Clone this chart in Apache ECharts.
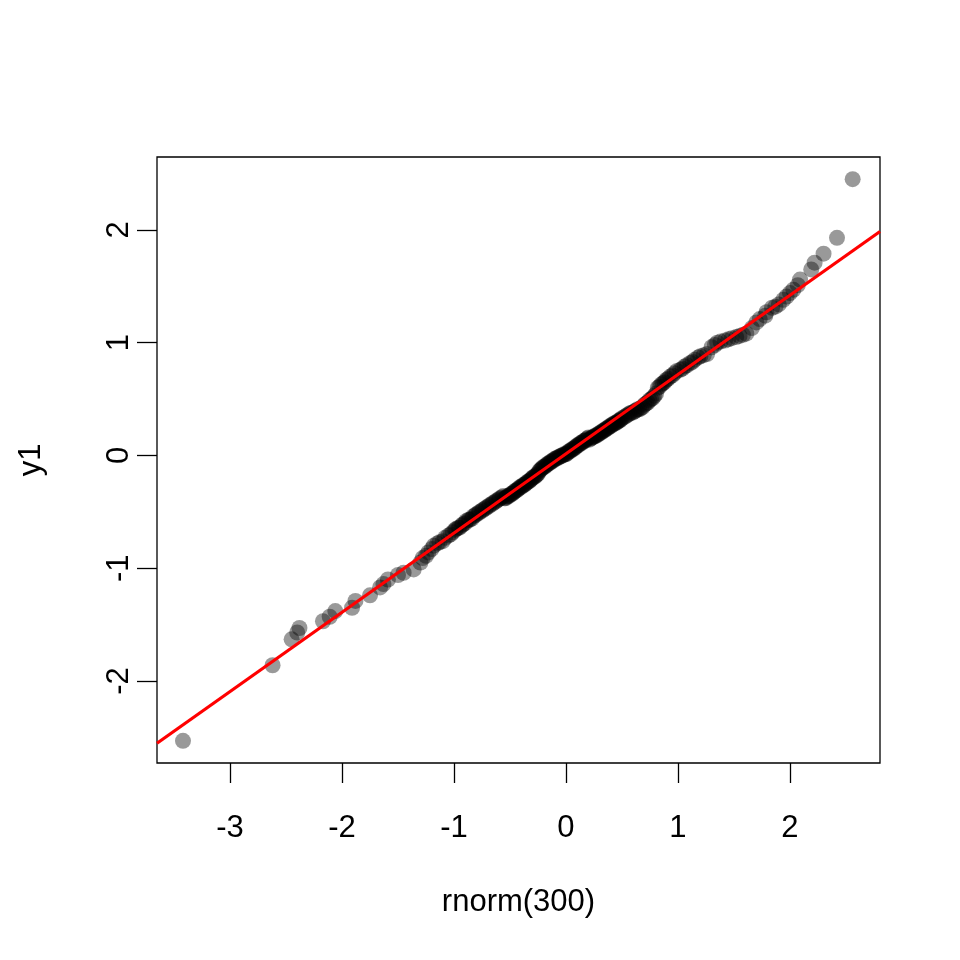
<!DOCTYPE html>
<html>
<head>
<meta charset="utf-8">
<title>y1 vs rnorm(300)</title>
<script src="https://cdn.jsdelivr.net/npm/echarts@6/dist/echarts.min.js"></script>
<style>
  html, body { margin: 0; padding: 0; background: #fff; }
  #chart { width: 960px; height: 960px; }
</style>
</head>
<body>
<div id="chart"></div>
<script>
// sorted sample values (x = rnorm(300), y = y1)
var xVals = [
  -3.42, -2.62, -2.45, -2.40, -2.38, -2.17, -2.11, -2.06, -1.91, -1.88, -1.75, -1.66, -1.63, -1.59, -1.50, -1.45, -1.36, -1.30,
  -1.28, -1.25, -1.23, -1.20, -1.18, -1.15, -1.13, -1.10, -1.08, -1.05, -1.03,
  -1.01, -0.99, -0.98, -0.96, -0.95, -0.93, -0.92, -0.90, -0.89, -0.87, -0.86, -0.84, -0.83, -0.81, -0.80, -0.78,
  -0.77, -0.75, -0.74, -0.72, -0.71, -0.69, -0.68, -0.66, -0.65, -0.63, -0.62, -0.60, -0.59, -0.57, -0.56,
  -0.55, -0.54, -0.53, -0.52, -0.51, -0.50, -0.49, -0.48, -0.47, -0.46, -0.45, -0.44, -0.43, -0.42, -0.41, -0.40,
  -0.39, -0.38, -0.37, -0.36, -0.35, -0.34, -0.33, -0.32, -0.31, -0.30, -0.29, -0.28, -0.27, -0.26, -0.25,
  -0.24, -0.23, -0.22, -0.21, -0.20, -0.19, -0.18, -0.17, -0.16, -0.15, -0.14, -0.13, -0.12, -0.11, -0.10, -0.09,
  -0.08, -0.07, -0.06, -0.05, -0.04, -0.03, -0.02, -0.01,
  0.00, 0.01, 0.02, 0.03, 0.04, 0.05, 0.06, 0.07, 0.08, 0.09, 0.10, 0.11, 0.12, 0.13, 0.14, 0.15, 0.16, 0.17, 0.18, 0.19, 0.20,
  0.21, 0.22, 0.23, 0.24, 0.25, 0.26, 0.27, 0.28, 0.29, 0.30, 0.31, 0.32, 0.33, 0.34, 0.35, 0.36, 0.37, 0.38, 0.39, 0.40,
  0.41, 0.42, 0.43, 0.44, 0.45, 0.46, 0.47, 0.48, 0.49, 0.50,
  0.52, 0.535, 0.55, 0.565, 0.58, 0.595, 0.61, 0.625, 0.64, 0.655, 0.67, 0.685, 0.70, 0.715, 0.73, 0.745, 0.76, 0.775, 0.79, 0.805,
  0.82, 0.835, 0.85, 0.865, 0.88, 0.895, 0.91,
  0.93, 0.95, 0.97, 0.99, 1.02, 1.04, 1.06, 1.08, 1.11, 1.13, 1.15, 1.18, 1.20, 1.23, 1.26, 1.30, 1.33, 1.35, 1.38, 1.42,
  1.45, 1.48, 1.52, 1.55, 1.58, 1.61, 1.66, 1.70, 1.73, 1.78, 1.79, 1.84, 1.87, 1.90, 1.94, 1.97, 2.00, 2.03, 2.07, 2.09,
  2.19, 2.22, 2.30, 2.42, 2.56
]
var yVals = [
  -2.53, -1.86, -1.63, -1.57, -1.53, -1.47, -1.43, -1.38, -1.35, -1.29, -1.24, -1.17, -1.14, -1.10, -1.06, -1.04, -1.01, -0.95,
  -0.91, -0.89, -0.86, -0.83, -0.80, -0.78, -0.77, -0.76, -0.73, -0.71, -0.70,
  -0.68, -0.66, -0.65, -0.64, -0.64, -0.62, -0.61, -0.60, -0.58, -0.57, -0.57, -0.56, -0.54, -0.53, -0.52, -0.51,
  -0.50, -0.49, -0.48, -0.47, -0.46, -0.45, -0.44, -0.43, -0.42, -0.41, -0.40, -0.39, -0.38, -0.37, -0.36,
  -0.38, -0.38, -0.37, -0.36, -0.36, -0.35, -0.34, -0.34, -0.33, -0.32, -0.31, -0.31, -0.30, -0.29, -0.28, -0.28,
  -0.27, -0.26, -0.26, -0.25, -0.24, -0.23, -0.23, -0.22, -0.21, -0.20, -0.19, -0.19, -0.18, -0.17, -0.16,
  -0.14, -0.13, -0.12, -0.11, -0.10, -0.10, -0.09, -0.08, -0.07, -0.07, -0.06, -0.05, -0.05, -0.04, -0.03, -0.03,
  -0.02, -0.02, -0.01, -0.01, 0.00, 0.00, 0.01, 0.01,
  0.01, 0.02, 0.03, 0.04, 0.04, 0.05, 0.06, 0.06, 0.07, 0.08, 0.09, 0.09, 0.10, 0.11, 0.11, 0.12, 0.13, 0.13, 0.14, 0.15, 0.16,
  0.14, 0.15, 0.16, 0.16, 0.17, 0.17, 0.18, 0.18, 0.19, 0.20, 0.20, 0.21, 0.22, 0.22, 0.23, 0.24, 0.24, 0.25, 0.26, 0.26,
  0.27, 0.28, 0.28, 0.29, 0.29, 0.30, 0.31, 0.31, 0.32, 0.33,
  0.34, 0.35, 0.36, 0.37, 0.38, 0.38, 0.39, 0.40, 0.41, 0.41, 0.42, 0.43, 0.45, 0.46, 0.47, 0.49, 0.50, 0.51, 0.53, 0.55,
  0.60, 0.61, 0.63, 0.64, 0.65, 0.67, 0.68,
  0.70, 0.71, 0.73, 0.75, 0.76, 0.77, 0.79, 0.80, 0.82, 0.83, 0.85, 0.87, 0.88, 0.89, 0.90, 0.96, 0.98, 1.00, 1.01, 1.02,
  1.03, 1.04, 1.05, 1.06, 1.07, 1.08, 1.13, 1.18, 1.21, 1.24, 1.27, 1.31, 1.32, 1.34, 1.38, 1.41, 1.44, 1.47, 1.51, 1.56,
  1.65, 1.71, 1.79, 1.93, 2.45
]
var xTicks = [-3, -2, -1, 0, 1, 2]
var yTicks = [-2, -1, 0, 1, 2]
// fitted line: intercept, slope
var lineCoef = [0.015, 0.703]

var xMin = -3.652, xMax = 2.804
var yMin = -2.727, yMax = 2.647

var points = xVals.map(function (x, i) { return [x, yVals[i]] })
var fitLine = [
  [xMin, lineCoef[0] + lineCoef[1] * xMin],
  [xMax, lineCoef[0] + lineCoef[1] * xMax]
]

var font = 'Liberation Sans, Arial, Helvetica, sans-serif'
var fontSize = 31
var chart = echarts.init(document.getElementById('chart'), null, { renderer: 'canvas' })
chart.setOption({
  animation: false,
  backgroundColor: '#ffffff',
  grid: {
    left: 157,
    right: 80,
    top: 157,
    bottom: 197,
    show: true,
    borderColor: '#000',
    borderWidth: 1.3,
    backgroundColor: 'transparent'
  },
  xAxis: {
    type: 'value',
    min: xMin,
    max: xMax,
    name: 'rnorm(300)',
    nameLocation: 'middle',
    nameGap: 124,
    nameTextStyle: { fontFamily: font, fontSize: fontSize, color: '#000' },
    axisLine: { show: false, onZero: false },
    splitLine: { show: false },
    axisTick: {
      show: true,
      inside: false,
      length: 20,
      customValues: xTicks,
      lineStyle: { color: '#000', width: 1.3 }
    },
    axisLabel: {
      customValues: xTicks,
      margin: 50,
      fontFamily: font,
      fontSize: fontSize,
      color: '#000'
    }
  },
  yAxis: {
    type: 'value',
    min: yMin,
    max: yMax,
    name: 'y1',
    nameLocation: 'middle',
    nameGap: 110,
    nameTextStyle: { fontFamily: font, fontSize: fontSize, color: '#000' },
    axisLine: { show: false, onZero: false },
    splitLine: { show: false },
    axisTick: {
      show: true,
      inside: false,
      length: 20,
      customValues: yTicks,
      lineStyle: { color: '#000', width: 1.3 }
    },
    axisLabel: {
      customValues: yTicks,
      rotate: 90,
      margin: 22,
      fontFamily: font,
      fontSize: fontSize,
      color: '#000'
    }
  },
  series: [
    {
      type: 'scatter',
      data: points,
      symbol: 'circle',
      symbolSize: 16,
      itemStyle: { color: 'rgba(0,0,0,0.5)' },
      silent: true
    },
    {
      type: 'line',
      data: fitLine,
      showSymbol: false,
      clip: true,
      lineStyle: { color: '#ff0000', width: 3.2 },
      silent: true
    }
  ]
})
</script>
</body>
</html>
